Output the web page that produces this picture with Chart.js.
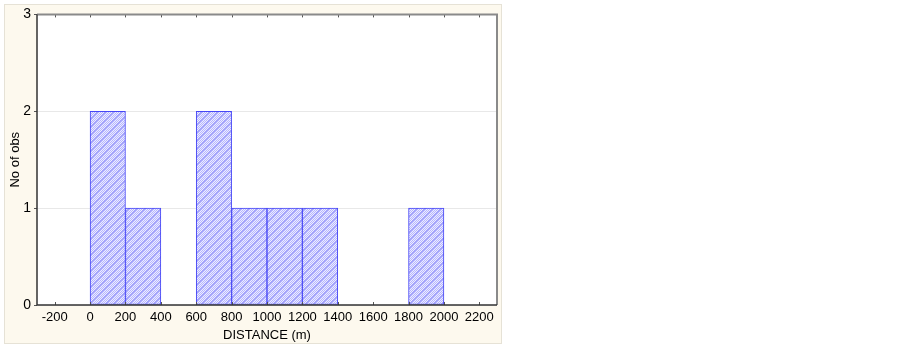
<!DOCTYPE html>
<html>
<head>
<meta charset="utf-8">
<script src="https://cdn.jsdelivr.net/npm/chart.js@4.4.1/dist/chart.umd.min.js"></script>
<style>
html,body{margin:0;padding:0;background:#fff;}
#wrap{width:903px;height:347px;position:relative;}
</style>
</head>
<body>
<div id="wrap"><canvas id="hist"></canvas></div>
<script>
// histogram bins (centre of each 200 m class) and counts
var binCentres=[100,300,500,700,900,1100,1300,1500,1700,1900];
var counts=[2,1,0,2,1,1,1,0,0,1];
var xTicks=[-200,0,200,400,600,800,1000,1200,1400,1600,1800,2000,2200];
var yTicks=[0,1,2,3];

// hatched + dithered fill like the original
var pc=document.createElement('canvas');
pc.width=8;pc.height=8;
var p=pc.getContext('2d');
for(var yy=0;yy<8;yy++){
	for(var xx=0;xx<8;xx++){
		var d=(xx+yy)%8;
		if(d<2) p.fillStyle='#a4a4fa';
		else p.fillStyle=((xx+yy)%2===0)?'#b6b6ff':'#ececff';
		p.fillRect(xx,yy,1,1);
	}
}
var hatch=p.createPattern(pc,'repeat');

var pts=[];
for(var i=0;i<binCentres.length;i++){
	pts.push({x:binCentres[i],y:counts[i]===0?null:counts[i]});
}

var frame={
	id:'frame',
	beforeDraw:function(c){
		var g=c.ctx,a=c.chartArea;
		g.save();
		g.fillStyle='#fdf9ee';
		g.fillRect(5,5,496,338);
		g.strokeStyle='#e6e2d6';
		g.lineWidth=1;
		g.strokeRect(4.5,4.5,497,339);
		g.fillStyle='#fff';
		g.fillRect(a.left,a.top,a.right-a.left,a.bottom-a.top);
		g.restore();
	},
	afterDraw:function(c){
		var g=c.ctx,a=c.chartArea,xs=c.scales.x,ys=c.scales.y;
		g.save();
		g.strokeStyle='#555';
		g.lineWidth=1;
		// inside tick marks top and bottom
		xTicks.forEach(function(v){
			var px=Math.round(xs.getPixelForValue(v))+0.5;
			g.beginPath();
			g.moveTo(px,a.top);g.lineTo(px,a.top+3);
			g.moveTo(px,a.bottom);g.lineTo(px,a.bottom-3);
			g.stroke();
		});
		yTicks.forEach(function(v){
			var py=Math.round(ys.getPixelForValue(v))+0.5;
			g.beginPath();
			g.moveTo(a.left-3,py);g.lineTo(a.left,py);
			g.stroke();
		});
		// plot frame
		g.strokeStyle='#8a8a8a';
		g.lineWidth=2;
		g.beginPath();
		g.moveTo(a.left,a.top);g.lineTo(a.right,a.top);g.lineTo(a.right,a.bottom);
		g.stroke();
		g.strokeStyle='#333';
		g.lineWidth=1.5;
		g.beginPath();
		g.moveTo(a.left,a.top);g.lineTo(a.left,a.bottom);g.lineTo(a.right,a.bottom);
		g.stroke();
		g.restore();
	}
};

var chart=new Chart(document.getElementById('hist'),{
	type:'bar',
	data:{
		datasets:[{
			label:'No of obs',
			data:pts,
			backgroundColor:hatch,
			borderColor:'#4646f6',
			borderWidth:1,
			borderSkipped:false,
			barPercentage:1,
			categoryPercentage:1
		}]
	},
	options:{
		responsive:true,
		maintainAspectRatio:false,
		animation:false,
		layout:{padding:{left:0,top:13,right:406,bottom:0}},
		plugins:{legend:{display:false},tooltip:{enabled:false}},
		scales:{
			x:{
				type:'linear',
				offset:false,
				min:-300,max:2300,
				afterFit:function(s){s.height=42;},
				afterBuildTicks:function(s){s.ticks=xTicks.map(function(v){return {value:v};});},
				grid:{display:false,drawTicks:false},
				border:{display:false},
				ticks:{color:'#000',font:{family:'Liberation Sans, Arial',size:13},padding:5,maxRotation:0,autoSkip:false,
					callback:function(v){return String(v);}},
				title:{display:true,text:'DISTANCE (m)',color:'#000',font:{family:'Liberation Sans, Arial',size:13},padding:{top:0,bottom:4}}
			},
			y:{
				min:0,max:3,
				afterFit:function(s){s.width=37;},
				afterBuildTicks:function(s){s.ticks=yTicks.map(function(v){return {value:v};});},
				grid:{color:'#e8e8e8',drawTicks:false},
				border:{display:false},
				ticks:{color:'#000',font:{family:'Liberation Sans, Arial',size:14},padding:6},
				title:{display:true,text:'No of obs',color:'#000',font:{family:'Liberation Sans, Arial',size:13},padding:{top:8,bottom:0}}
			}
		}
	},
	plugins:[frame]
});
</script>
</body>
</html>
